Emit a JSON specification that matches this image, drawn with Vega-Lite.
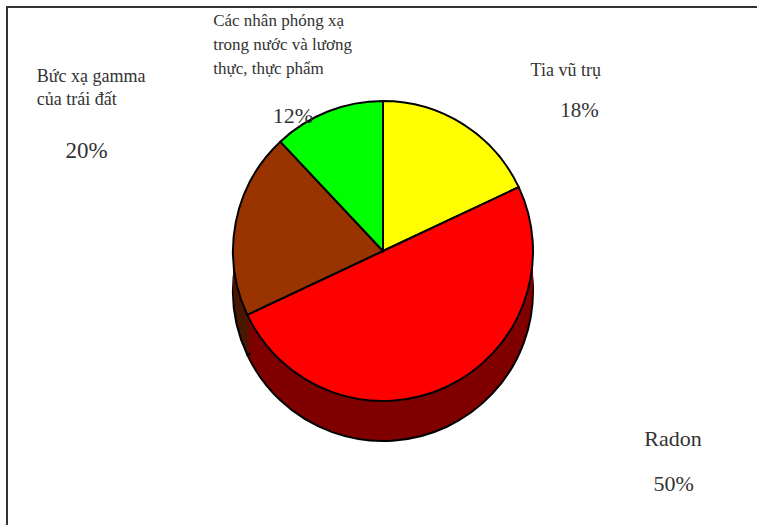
{
  "$schema": "https://vega.github.io/schema/vega-lite/v6.json",
  "width": 752,
  "height": 520,
  "autosize": {"type": "none"},
  "padding": {"left": 7, "top": 7, "right": 0, "bottom": 0},
  "background": "white",
  "view": {"stroke": "#333", "strokeWidth": 2},
  "config": {"view": {"stroke": "#333", "strokeWidth": 2}, "text": {"font": "Liberation Serif"}},
  "data": {"values": [
    {"source": "Tia vũ trụ", "label": "Tia vũ trụ", "share": 0.18, "k": 1},
    {"source": "Radon", "label": "Radon", "share": 0.50, "k": 2},
    {"source": "Bức xạ gamma của trái đất", "label": "Bức xạ gamma\ncủa trái đất", "share": 0.20, "k": 3},
    {"source": "Các nhân phóng xạ trong nước và lương thực, thực phẩm", "label": "Các nhân phóng xạ\ntrong nước và lương\nthực, thực phẩm", "share": 0.12, "k": 4}
  ]},
  "encoding": {
    "theta": {"field": "share", "type": "quantitative", "stack": true},
    "order": {"field": "k", "type": "quantitative"}
  },
  "layer": [
    {
      "mark": {"type": "arc", "outerRadius": 150, "yOffset": 24, "stroke": "black", "strokeWidth": 2},
      "encoding": {"fill": {"field": "source", "type": "nominal", "legend": null,
        "scale": {"domain": ["Tia vũ trụ", "Radon", "Bức xạ gamma của trái đất", "Các nhân phóng xạ trong nước và lương thực, thực phẩm"],
                  "range": ["#8a8a00", "#800000", "#4a1800", "#008000"]}}}
    },
    {
      "mark": {"type": "arc", "outerRadius": 150, "yOffset": 16},
      "encoding": {"fill": {"field": "source", "type": "nominal", "legend": null}}
    },
    {
      "mark": {"type": "arc", "outerRadius": 150, "yOffset": 8},
      "encoding": {"fill": {"field": "source", "type": "nominal", "legend": null}}
    },
    {
      "mark": {"type": "arc", "outerRadius": 150, "yOffset": 0},
      "encoding": {"fill": {"field": "source", "type": "nominal", "legend": null}}
    },
    {
      "mark": {"type": "arc", "outerRadius": 150, "yOffset": -8},
      "encoding": {"fill": {"field": "source", "type": "nominal", "legend": null}}
    },
    {
      "mark": {"type": "arc", "outerRadius": 150, "yOffset": -16, "stroke": "black", "strokeWidth": 2},
      "encoding": {"color": {"field": "source", "type": "nominal", "legend": null,
        "scale": {"domain": ["Tia vũ trụ", "Radon", "Bức xạ gamma của trái đất", "Các nhân phóng xạ trong nước và lương thực, thực phẩm"],
                  "range": ["#FFFF00", "#FF0000", "#993300", "#00FF00"]}}}
    },
    {
      "mark": {"type": "text", "radius": 253, "dx": 12, "dy": 9, "align": "left", "baseline": "top", "lineBreak": "\n", "lineHeight": 23, "fontSize": 18, "fill": "#333"},
      "encoding": {"detail": {"field": "source"}, "text": {"condition": {"test": "datum.k === 1", "field": "label"}, "value": ""}}
    },
    {
      "mark": {"type": "text", "radius": 238, "dx": 69, "dy": 45, "align": "center", "baseline": "middle", "fontSize": 21, "fill": "#333"},
      "encoding": {"detail": {"field": "source"}, "text": {"condition": {"test": "datum.k === 1", "field": "share", "type": "quantitative", "format": ".0%"}, "value": ""}}
    },
    {
      "mark": {"type": "text", "radius": 259, "dx": 151, "dy": -72, "align": "left", "baseline": "top", "lineBreak": "\n", "lineHeight": 23, "fontSize": 22, "fill": "#333"},
      "encoding": {"detail": {"field": "source"}, "text": {"condition": {"test": "datum.k === 2", "field": "label"}, "value": ""}}
    },
    {
      "mark": {"type": "text", "radius": 314, "dx": 157, "dy": -67, "align": "center", "baseline": "middle", "fontSize": 22, "fill": "#333"},
      "encoding": {"detail": {"field": "source"}, "text": {"condition": {"test": "datum.k === 2", "field": "share", "type": "quantitative", "format": ".0%"}, "value": ""}}
    },
    {
      "mark": {"type": "text", "radius": 380, "dx": 27, "dy": -128, "align": "left", "baseline": "top", "lineBreak": "\n", "lineHeight": 23, "fontSize": 18, "fill": "#333"},
      "encoding": {"detail": {"field": "source"}, "text": {"condition": {"test": "datum.k === 3", "field": "label"}, "value": ""}}
    },
    {
      "mark": {"type": "text", "radius": 318, "dx": 16, "dy": -56, "align": "center", "baseline": "middle", "fontSize": 23, "fill": "#333"},
      "encoding": {"detail": {"field": "source"}, "text": {"condition": {"test": "datum.k === 3", "field": "share", "type": "quantitative", "format": ".0%"}, "value": ""}}
    },
    {
      "mark": {"type": "text", "radius": 301, "dx": -59, "dy": 26, "align": "left", "baseline": "top", "lineBreak": "\n", "lineHeight": 24, "fontSize": 17, "fill": "#333"},
      "encoding": {"detail": {"field": "source"}, "text": {"condition": {"test": "datum.k === 4", "field": "label"}, "value": ""}}
    },
    {
      "mark": {"type": "text", "radius": 177, "dx": -25, "dy": 14, "align": "center", "baseline": "middle", "fontSize": 22, "fill": "#333"},
      "encoding": {"detail": {"field": "source"}, "text": {"condition": {"test": "datum.k === 4", "field": "share", "type": "quantitative", "format": ".0%"}, "value": ""}}
    }
  ]
}
